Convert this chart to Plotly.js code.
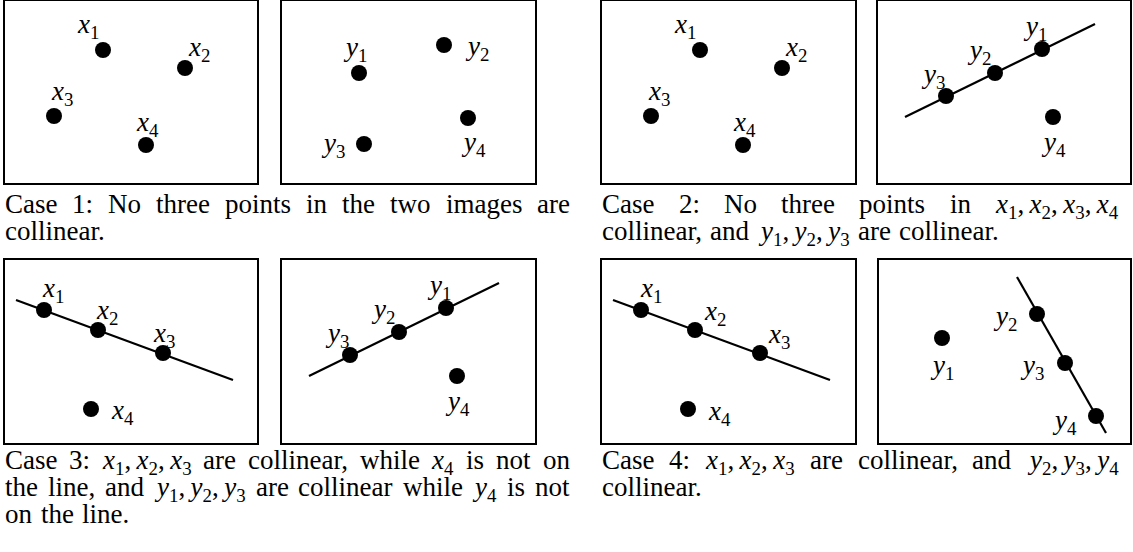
<!DOCTYPE html>
<html><head><meta charset="utf-8">
<script src="https://cdn.plot.ly/plotly-3.0.1.min.js"></script>
<style>html,body{margin:0;padding:0;background:#fff;} #plot{width:1133px;height:552px;}</style>
</head><body><div id="plot"></div>
<script>
// ---------------- data (point coordinates inside each image, y downward) ----------------
// x-image, no three collinear (cases 1, 2)
const xFreeX = [98, 180, 49, 141];
const xFreeY = [49, 67, 115, 144];
const xFreeLabelX = [83, 194, 57, 142];
const xFreeLabelY = [25, 48, 92, 123];
// y-image, no three collinear (case 1)
const yFreeX = [77, 162, 82, 186];
const yFreeY = [72, 44, 143, 117];
const yFreeLabelX = [73, 195, 51, 191];
const yFreeLabelY = [48, 47, 144, 143];
// y-image, y1 y2 y3 collinear (cases 2, 3)
const y123X = [164, 117, 68, 175];
const y123Y = [48, 72, 95, 116];
const y123LabelX = [157, 101, 55, 175];
const y123LabelY = [27, 51, 75, 143];
const y123LineX = [27, 217];
const y123LineY = [116, 23];
// x-image, x1 x2 x3 collinear (cases 3, 4)
const x123X = [39, 93, 158, 86];
const x123Y = [50, 70, 93, 149];
const x123LineX = [11, 228];
const x123LineY = [40, 120];
const x123Case3LabelX = [48, 102, 159, 117];
const x123Case3LabelY = [30, 52, 75, 152];
const x123Case4LabelX = [49, 113, 177, 117];
const x123Case4LabelY = [30, 53, 76, 153];
// y-image, y2 y3 y4 collinear (case 4)
const y234X = [63, 158, 186, 217];
const y234Y = [78, 54, 103, 156];
const y234LabelX = [63, 126, 153, 185];
const y234LabelY = [107, 58, 107, 162];
const y234LineX = [138, 227];
const y234LineY = [17, 173];

const xNames = ['x_1', 'x_2', 'x_3', 'x_4'];
const yNames = ['y_1', 'y_2', 'y_3', 'y_4'];

const caption1 = ['Case 1: No three points in the two images are', 'collinear.'];
const caption2 = ['Case 2: No three points in $x_1,x_2,x_3,x_4$', 'collinear, and $y_1,y_2,y_3$ are collinear.'];
const caption3 = ['Case 3: $x_1,x_2,x_3$ are collinear, while $x_4$ is not on', 'the line, and $y_1,y_2,y_3$ are collinear while $y_4$ is not', 'on the line.'];
const caption4 = ['Case 4: $x_1,x_2,x_3$ are collinear, and $y_2,y_3,y_4$', 'collinear.'];

// ---------------- layout helpers ----------------
const W = 1133, H = 552;
const FAMILY = 'Liberation Serif, Times New Roman, serif';
const FS = 27, LFS = 27;

const panels = [
  {box: [5, 1, 257, 183],     px: xFreeX, py: xFreeY, lx: xFreeLabelX, ly: xFreeLabelY, names: xNames},
  {box: [282, 1, 535, 183],   px: yFreeX, py: yFreeY, lx: yFreeLabelX, ly: yFreeLabelY, names: yNames},
  {box: [602, 1, 855, 183],   px: xFreeX, py: xFreeY, lx: xFreeLabelX, ly: xFreeLabelY, names: xNames},
  {box: [878, 1, 1130, 183],  px: y123X, py: y123Y, lx: y123LabelX, ly: y123LabelY, names: yNames, linex: y123LineX, liney: y123LineY},
  {box: [5, 260, 257, 443],   px: x123X, py: x123Y, lx: x123Case3LabelX, ly: x123Case3LabelY, names: xNames, linex: x123LineX, liney: x123LineY},
  {box: [282, 260, 535, 443], px: y123X, py: y123Y, lx: y123LabelX, ly: y123LabelY, names: yNames, linex: y123LineX, liney: y123LineY},
  {box: [602, 260, 855, 443], px: x123X, py: x123Y, lx: x123Case4LabelX, ly: x123Case4LabelY, names: xNames, linex: x123LineX, liney: x123LineY},
  {box: [879, 260, 1130, 443], px: y234X, py: y234Y, lx: y234LabelX, ly: y234LabelY, names: yNames, linex: y234LineX, liney: y234LineY}
];

const captionBlocks = [
  {lines: caption1, x0: 5,   x1: 570,  base: 213},
  {lines: caption2, x0: 602, x1: 1119, base: 213},
  {lines: caption3, x0: 5,   x1: 570,  base: 469},
  {lines: caption4, x0: 602, x1: 1119, base: 469}
];
const LINE_STEP = 27;

const cv = document.createElement('canvas');
const ctx = cv.getContext('2d');
function meas(t, it, sz) {
  ctx.font = (it ? 'italic ' : '') + sz + 'px "Liberation Serif"';
  return ctx.measureText(t).width;
}
function mathInfo(m, sz) {
  let html = '', w = 0;
  const parts = m.split(',');
  parts.forEach((p, i) => {
    const [v, s] = p.split('_');
    html += '<i>' + v + '</i>' + (s ? '<sub>' + s + '</sub>' : '');
    w += meas(v, true, sz) + (s ? meas(s, false, sz * 0.7) : 0);
    if (i < parts.length - 1) { html += ',\u2009'; w += meas(',\u2009', false, sz); }
  });
  return {html, w};
}
function wordInfo(tok, sz) {
  let html = '', w = 0, last = 0, m;
  const re = /\$([^$]*)\$/g;
  while ((m = re.exec(tok))) {
    const pre = tok.slice(last, m.index);
    if (pre) { html += pre; w += meas(pre, false, sz); }
    const mm = mathInfo(m[1], sz);
    html += mm.html; w += mm.w; last = re.lastIndex;
  }
  const post = tok.slice(last);
  if (post) { html += post; w += meas(post, false, sz); }
  return {html, w};
}

const data = [];
const layout = {
  width: W, height: H,
  margin: {l: 0, r: 0, t: 0, b: 0},
  paper_bgcolor: '#fff', plot_bgcolor: '#fff',
  showlegend: false,
  annotations: []
};

panels.forEach((p, i) => {
  const k = i + 1, sfx = k === 1 ? '' : String(k);
  const [x0, y0, x1, y1] = p.box;
  const ax = {showline: true, mirror: true, linecolor: '#000', linewidth: 2, showgrid: false,
              zeroline: false, showticklabels: false, ticks: '', fixedrange: true};
  layout['xaxis' + sfx] = Object.assign({}, ax, {domain: [x0 / W, x1 / W], range: [0, x1 - x0], anchor: 'y' + sfx});
  layout['yaxis' + sfx] = Object.assign({}, ax, {domain: [1 - y1 / H, 1 - y0 / H], range: [y1 - y0, 0], anchor: 'x' + sfx});
  if (p.linex) {
    data.push({type: 'scatter', mode: 'lines', x: p.linex, y: p.liney, xaxis: 'x' + sfx, yaxis: 'y' + sfx,
               line: {color: '#000', width: 2.2}, hoverinfo: 'skip'});
  }
  data.push({type: 'scatter', mode: 'markers', x: p.px, y: p.py, xaxis: 'x' + sfx, yaxis: 'y' + sfx,
             marker: {color: '#000', size: 16, line: {width: 0}}, hoverinfo: 'skip'});
  p.names.forEach((n, j) => {
    layout.annotations.push({
      xref: 'x' + sfx, yref: 'y' + sfx, x: p.lx[j], y: p.ly[j], showarrow: false,
      xanchor: 'center', yanchor: 'middle', text: mathInfo(n, LFS).html,
      font: {family: FAMILY, size: LFS, color: '#000'}
    });
  });
});

// caption words: each word is its own annotation so that justified lines can be spread
const captionLines = [];
captionBlocks.forEach(b => {
  b.lines.forEach((line, li) => {
    const toks = line.split(' ').map(t => wordInfo(t, FS));
    const base = b.base + li * LINE_STEP;
    const entry = {x0: b.x0, x1: b.x1, justify: li < b.lines.length - 1, words: []};
    toks.forEach(t => {
      entry.words.push({idx: layout.annotations.length, w: t.w});
      layout.annotations.push({
        xref: 'paper', yref: 'paper', x: 0, y: 1 - (base - 0.891 * FS - 2) / H,
        xanchor: 'left', yanchor: 'top', showarrow: false, text: t.html,
        font: {family: FAMILY, size: FS, color: '#000'}
      });
    });
    captionLines.push(entry);
  });
});

function placeWords(getW) {
  const upd = {};
  captionLines.forEach(L => {
    const ws = L.words.map(getW);
    const total = ws.reduce((s, v) => s + v, 0);
    const gap = L.justify ? (L.x1 - L.x0 - total) / (ws.length - 1) : FS * 0.3;
    let pos = L.x0;
    L.words.forEach((wd, j) => {
      upd['annotations[' + wd.idx + '].x'] = (pos - 2) / W;
      pos += ws[j] + gap;
    });
  });
  return upd;
}
// initial placement with canvas widths
Object.entries(placeWords(wd => wd.w)).forEach(([k, v]) => {
  const idx = +k.match(/\[(\d+)\]/)[1];
  layout.annotations[idx].x = v;
});

Plotly.newPlot('plot', data, layout, {staticPlot: true, displayModeBar: false}).then(gd => {
  const real = {};
  gd.querySelectorAll('g.annotation').forEach(g => {
    const idx = +g.getAttribute('data-index');
    const t = g.querySelector('text.annotation-text');
    if (t) { try { real[idx] = t.getBBox().width; } catch (e) {} }
  });
  const upd = placeWords(wd => (real[wd.idx] > 0 ? real[wd.idx] : wd.w));
  return Plotly.relayout(gd, upd);
});
</script></body></html>
